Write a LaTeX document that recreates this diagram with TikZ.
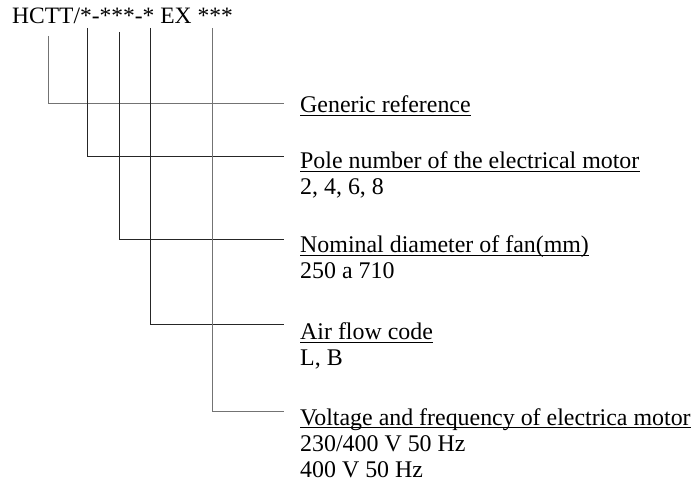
\documentclass[tikz,border=0pt]{standalone}
\usepackage{fontspec}
\setmainfont{Liberation Serif}
\begin{document}
\begin{tikzpicture}[x=1pt,y=-1pt,
  lbl/.style={anchor=base west,inner sep=0pt,font=\fontsize{23.9}{26}\selectfont},
  conn/.style={draw=black!85,line width=0.9pt},
  connlight/.style={draw=black!55,line width=0.9pt},
  ul/.style={draw=black,line width=1.2pt}]
\useasboundingbox (0,0) rectangle (694,486);
% header
\node[lbl,font=\fontsize{23.5}{26}\selectfont] (hdr) at (12,24) {HCTT/*-***-* EX ***};
% labels
\node[lbl] (t1) at (300,113) {Generic reference};
\node[lbl] (t2) at (300,169) {Pole number of the electrical motor};
\node[lbl] (s2) at (300,195) {2, 4, 6, 8};
\node[lbl] (t3) at (300,253) {Nominal diameter of fan(mm)};
\node[lbl] (s3) at (300,279) {250 a 710};
\node[lbl] (t4) at (300,340) {Air flow code};
\node[lbl] (s4) at (300,366) {L, B};
\node[lbl] (t5) at (300,425) {Voltage and frequency of electrica motor};
\node[lbl] (s5a) at (300,451) {230/400 V 50 Hz};
\node[lbl] (s5b) at (300,477) {400 V 50 Hz};
% underlines
\foreach \t in {t1,t2,t3,t4,t5}
  \draw[ul] ([yshift=-2.5pt]\t.base west) -- ([yshift=-2.5pt]\t.base east);
% connector coordinates
\coordinate (a1) at (48,36);  \coordinate (b1) at (284,103);
\coordinate (a2) at (87,28);  \coordinate (b2) at (284,156);
\coordinate (a3) at (119,32); \coordinate (b3) at (284,239);
\coordinate (a4) at (150,28); \coordinate (b4) at (284,324);
\coordinate (a5) at (212,28); \coordinate (b5) at (284,411);
\draw[connlight] (a1) |- (b1);
\draw[conn] (a2) |- (b2);
\draw[conn] (a3) |- (b3);
\draw[conn] (a4) |- (b4);
\draw[connlight] (a5) |- (b5);
\end{tikzpicture}
\end{document}
